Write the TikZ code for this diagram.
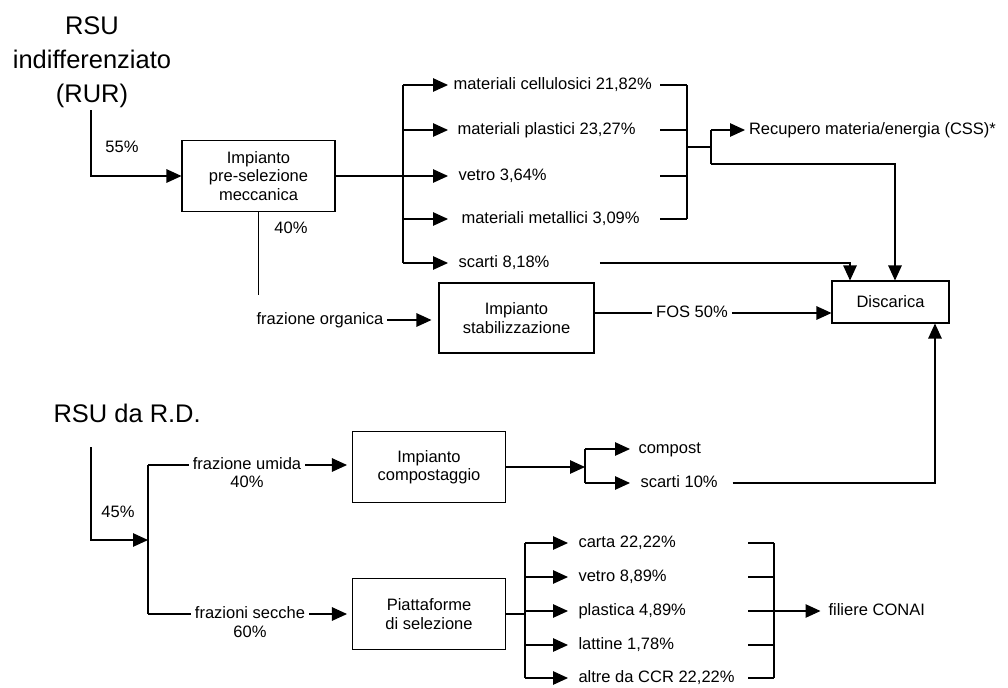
\documentclass[tikz,border=0pt]{standalone}
\usepackage{fontspec}
\setmainfont{Liberation Sans}
\usetikzlibrary{arrows.meta,positioning}

\tikzset{
  box/.style={draw, minimum width=3.06cm, minimum height=1.42cm, align=center,
    inner sep=1pt, font=\fontsize{9.4}{10.5}\selectfont},
  lbl/.style={inner sep=2pt, text height=7pt, text depth=2pt,
    font=\fontsize{9.4}{11}\selectfont},
  heading/.style={align=center, inner sep=0pt, font=\fontsize{14.5}{19.4}\selectfont},
  flow/.style={-{Triangle[length=0.3cm,width=0.27cm]}},
}

\begin{document}
\begin{tikzpicture}[x=0.02cm, y=-0.02cm, line width=0.6pt]
  \useasboundingbox (0,0) rectangle (1008,687);

  % RUR: pre-selection
  \node[heading] (rur) at (92,62) {RSU\\indifferenziato\\(RUR)};
  \coordinate (rurfoot) at (91,110);
  \node[box] (pre) at (258.5,176) {Impianto\\pre-selezione\\meccanica};
  \node[lbl] (p55) at (122,148) {55\%};
  \draw[flow] (rurfoot) |- (pre.west);

  % outputs of pre-selection
  \coordinate (split1) at (403,176);
  \coordinate (tipa) at (448,0);
  \node[lbl, anchor=west] (cell) at (449.5,85) {materiali cellulosici 21,82\%};
  \node[lbl, anchor=west] (plast) at (453.5,130) {materiali plastici 23,27\%};
  \node[lbl, anchor=west] (vetroa) at (454.5,176) {vetro 3,64\%};
  \node[lbl, anchor=west] (metal) at (457.5,219) {materiali metallici 3,09\%};
  \node[lbl, anchor=west] (scartia) at (454.5,263) {scarti 8,18\%};
  \draw (pre.east) -- (split1);
  \draw (split1 |- cell) -- (split1 |- scartia);
  \foreach \n in {cell,plast,vetroa,metal,scartia}
    \draw[flow] (split1 |- \n) -- (tipa |- \n);

  % recovery and landfill
  \coordinate (lxa) at (660,0);
  \coordinate (bra) at (687,147);
  \foreach \n in {cell,plast,vetroa,metal}
    \draw (lxa |- \n) -- (bra |- \n);
  \draw (bra |- cell) -- (bra |- metal);
  \coordinate (css) at (711,147);
  \coordinate (cssdown) at (711,164);
  \node[lbl, anchor=west] (recup) at (745,130) {Recupero materia/energia (CSS)*};
  \draw (bra) -- (css);
  \draw (css |- recup) -- (cssdown);
  \draw[flow] (css |- recup) -- (recup.west);
  \node[box, minimum width=2.34cm, minimum height=0.84cm] (disc) at (890.5,302) {Discarica};
  \draw[flow] (cssdown) -| ([xshift=0.09cm]disc.north);
  \draw[flow] ([xshift=0.93cm]scartia.east) -| ([xshift=-0.81cm]disc.north);

  % organic fraction
  \coordinate (orgfoot) at (258.5,295);
  \draw (pre.south) -- (orgfoot);
  \node[lbl] (p40a) at (291,229) {40\%};
  \node[lbl] (org) at (320,320) {frazione organica};
  \node[box, minimum width=3.1cm, minimum height=1.4cm] (stab) at (516.5,318) {Impianto\\stabilizzazione};
  \draw[flow, shorten >=0.14cm] (org.east) -- (org -| stab.west);
  \node[lbl] (fos) at (692,313) {FOS 50\%};
  \draw (stab.east |- fos) -- (fos.west);
  \draw[flow] (fos.east) -- (fos -| disc.west);

  % RD: separate collection
  \node[heading, anchor=west] (rd) at (53,413) {RSU da R.D.};
  \coordinate (rdfoot) at (91,447);
  \coordinate (split2) at (148,540);
  \node[lbl] (p45) at (118,513) {45\%};
  \draw[flow] (rdfoot) |- (split2);
  \node[lbl] (umida) at (247,465) {frazione umida};
  \node[lbl] (p40b) at (247,483) {40\%};
  \node[lbl] (secche) at (250,614) {frazioni secche};
  \node[lbl] (p60) at (250,633) {60\%};
  \node[box] (comp) at (429,467) {Impianto\\compostaggio};
  \node[box] (piat) at (429,614) {Piattaforme\\di selezione};
  \draw (split2 |- umida) -- (split2 |- secche);
  \draw (split2 |- umida) -- (umida.west);
  \draw (split2 |- secche) -- (secche.west);
  \draw[flow, shorten >=0.1cm] (umida.east) -- (umida -| comp.west);
  \draw[flow, shorten >=0.1cm] (secche.east) -- (secche -| piat.west);

  % composting outputs
  \coordinate (split3) at (585,467);
  \coordinate (tipb) at (630,0);
  \draw[flow] (comp.east) -- (split3);
  \node[lbl, anchor=west] (compost) at (634.5,449) {compost};
  \node[lbl, anchor=west] (scartib) at (636.5,483) {scarti 10\%};
  \draw (split3 |- compost) -- (split3 |- scartib);
  \foreach \n in {compost,scartib}
    \draw[flow] (split3 |- \n) -- (tipb |- \n);
  \draw[flow] ([xshift=0.22cm]scartib.east) -| ([xshift=0.89cm]disc.south);

  % selection outputs
  \coordinate (split4) at (525,614);
  \coordinate (tipc) at (568,0);
  \node[lbl, anchor=west] (carta) at (574.5,543) {carta 22,22\%};
  \node[lbl, anchor=west] (vetrob) at (574.5,577) {vetro 8,89\%};
  \node[lbl, anchor=west] (plastb) at (574.5,611) {plastica 4,89\%};
  \node[lbl, anchor=west] (latt) at (574.5,645) {lattine 1,78\%};
  \node[lbl, anchor=west] (altre) at (574.5,678) {altre da CCR 22,22\%};
  \draw (piat.east) -- (split4);
  \draw (split4 |- carta) -- (split4 |- altre);
  \foreach \n in {carta,vetrob,plastb,latt,altre}
    \draw[flow] (split4 |- \n) -- (tipc |- \n);

  % CONAI
  \coordinate (lxc) at (748,0);
  \coordinate (brc) at (774,611);
  \foreach \n in {carta,vetrob,plastb,latt,altre}
    \draw (lxc |- \n) -- (brc |- \n);
  \draw (brc |- carta) -- (brc |- altre);
  \node[lbl, anchor=west] (conai) at (824.5,611) {filiere CONAI};
  \draw[flow] (brc) -- ([xshift=-0.08cm]conai.west);
\end{tikzpicture}
\end{document}
